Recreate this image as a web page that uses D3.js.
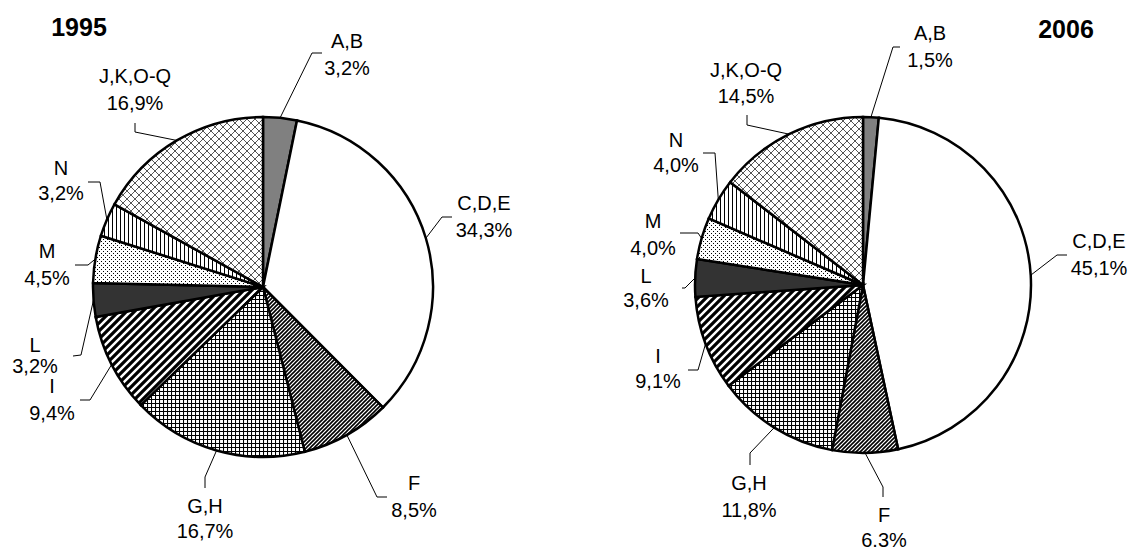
<!DOCTYPE html>
<html>
<head>
<meta charset="utf-8">
<script src="https://cdn.jsdelivr.net/npm/d3@7/dist/d3.min.js"></script>
<style>
  html, body { margin: 0; padding: 0; background: #fff; }
  svg { display: block; }
  text { font-family: "Liberation Sans", Arial, sans-serif; fill: #000; }
</style>
</head>
<body>
<svg id="chart" width="1131" height="549"></svg>
<script>
// ---- data ----
const years = ["1995", "2006"];
const sectors = ["A,B", "C,D,E", "F", "G,H", "I", "L", "M", "N", "J,K,O-Q"];
const values1995 = [3.2, 34.3, 8.5, 16.7, 9.4, 3.2, 4.5, 3.2, 16.9];
const values2006 = [1.5, 45.1, 6.3, 11.8, 9.1, 3.6, 4.0, 4.0, 14.5];
const pctLabels1995 = ["3,2%", "34,3%", "8,5%", "16,7%", "9,4%", "3,2%", "4,5%", "3,2%", "16,9%"];
const pctLabels2006 = ["1,5%", "45,1%", "6.3%", "11,8%", "9,1%", "3,6%", "4,0%", "4,0%", "14,5%"];

// ---- layout (positions / styles) ----
const pies = [
  { cx: 263, cy: 287, r: 170, title: { x: 79, y: 36 } },
  { cx: 863, cy: 285, r: 168, title: { x: 1066, y: 38 } }
];
// per slice: elbow, end of leader, text centre x, baselines of two lines
const labelLayout = [
  [ // 1995
    { ex: 312, ey: 53, tx2: 322, ty2: 53, x: 347, y1: 48, y2: 75 },
    { ex: 442, ey: 217, tx2: 452, ty2: 217, x: 484, y1: 210, y2: 237 },
    { ex: 377, ey: 497, tx2: 387, ty2: 497, x: 414, y1: 490, y2: 517 },
    { ex: 205, ey: 477, tx2: 205, ty2: 488, x: 205, y1: 513, y2: 538 },
    { ex: 90, ey: 400, tx2: 80, ty2: 400, x: 52, y1: 393, y2: 420 },
    { ex: 81, ey: 355, tx2: 73, ty2: 356, x: 35, y1: 352, y2: 373 },
    { ex: 88, ey: 265, tx2: 75, ty2: 265, x: 47, y1: 258, y2: 285 },
    { ex: 100, ey: 182, tx2: 88, ty2: 182, x: 61, y1: 175, y2: 200 },
    { ex: 135, ey: 132, tx2: 135, ty2: 123, x: 135, y1: 83, y2: 110 }
  ],
  [ // 2006
    { ex: 893, ey: 47, tx2: 900, ty2: 47, x: 930, y1: 40, y2: 67 },
    { ex: 1057, ey: 255, tx2: 1067, ty2: 255, x: 1099, y1: 248, y2: 275 },
    { ex: 883, ey: 487, tx2: 883, ty2: 497, x: 884, y1: 522, y2: 547 },
    { ex: 750, ey: 453, tx2: 750, ty2: 465, x: 749, y1: 490, y2: 517 },
    { ex: 698, ey: 370, tx2: 688, ty2: 370, x: 658, y1: 363, y2: 388 },
    { ex: 685, ey: 288, tx2: 682, ty2: 288, x: 646, y1: 283, y2: 307 },
    { ex: 698, ey: 233, tx2: 680, ty2: 233, x: 653, y1: 228, y2: 255 },
    { ex: 715, ey: 153, tx2: 703, ty2: 153, x: 676, y1: 147, y2: 172 },
    { ex: 747, ey: 125, tx2: 747, ty2: 115, x: 746, y1: 77, y2: 103 }
  ]
];

const svg = d3.select("#chart");
const defs = svg.append("defs");

function pattern(id, w, h, draw) {
  const p = defs.append("pattern").attr("id", id)
    .attr("patternUnits", "userSpaceOnUse").attr("width", w).attr("height", h);
  p.append("rect").attr("width", w).attr("height", h).attr("fill", "#fff");
  draw(p);
}
// F: dense upward diagonal
pattern("pF", 4, 4, p => {
  p.append("path").attr("d", "M-1,1 L1,-1 M0,4 L4,0 M3,5 L5,3").attr("stroke", "#000").attr("stroke-width", 1.6);
});
// G,H: small grid
pattern("pGH", 4, 4, p => {
  p.append("path").attr("d", "M0,0.5 H4 M0.5,0 V4").attr("stroke", "#000").attr("stroke-width", 1.1);
});
// I: wide upward diagonal
pattern("pI", 8, 8, p => {
  p.append("path").attr("d", "M-2,2 L2,-2 M0,8 L8,0 M6,10 L10,6").attr("stroke", "#000").attr("stroke-width", 3.2);
});
// M: dots
pattern("pM", 4, 4, p => {
  p.append("rect").attr("x", 0).attr("y", 0).attr("width", 1).attr("height", 1).attr("fill", "#000");
  p.append("rect").attr("x", 2).attr("y", 2).attr("width", 1).attr("height", 1).attr("fill", "#000");
});
// N: vertical lines
pattern("pN", 4, 4, p => {
  p.append("path").attr("d", "M1.5,0 V4").attr("stroke", "#000").attr("stroke-width", 1);
});
// J,K,O-Q: diagonal cross
pattern("pJ", 8, 8, p => {
  p.append("path").attr("d", "M0,0 L8,8 M8,0 L0,8 M-1,1 L1,-1 M7,9 L9,7 M-1,7 L1,9 M7,-1 L9,1")
    .attr("stroke", "#555").attr("stroke-width", 1);
});

const fills = ["#808080", "#ffffff", "url(#pF)", "url(#pGH)", "url(#pI)", "#333333", "url(#pM)", "url(#pN)", "url(#pJ)"];

const valueSets = [values1995, values2006];
const pctSets = [pctLabels1995, pctLabels2006];

const pieGen = d3.pie().sort(null).value(d => d.v).startAngle(0).endAngle(2 * Math.PI);

pies.forEach((P, k) => {
  const data = sectors.map((s, i) => ({ name: s, v: valueSets[k][i], pct: pctSets[k][i], i }));
  const arcs = pieGen(data);
  const arc = d3.arc().innerRadius(0).outerRadius(P.r);
  const g = svg.append("g").attr("transform", `translate(${P.cx},${P.cy})`);

  g.selectAll("path.slice").data(arcs).join("path")
    .attr("class", "slice")
    .attr("d", arc)
    .attr("fill", d => fills[d.data.i])
    .attr("stroke", "#000")
    .attr("stroke-width", 2.5)
    .attr("stroke-linejoin", "miter");

  // leader lines and labels
  const L = labelLayout[k];
  arcs.forEach(d => {
    const a = (d.startAngle + d.endAngle) / 2;
    const sx = P.cx + P.r * Math.sin(a);
    const sy = P.cy - P.r * Math.cos(a);
    const lay = L[d.data.i];
    svg.append("path")
      .attr("d", `M${sx},${sy} L${lay.ex},${lay.ey} L${lay.tx2},${lay.ty2}`)
      .attr("fill", "none").attr("stroke", "#000").attr("stroke-width", 1);
    svg.append("text").attr("x", lay.x).attr("y", lay.y1)
      .attr("text-anchor", "middle").attr("font-size", 20).text(d.data.name);
    svg.append("text").attr("x", lay.x).attr("y", lay.y2)
      .attr("text-anchor", "middle").attr("font-size", 20).text(d.data.pct);
  });

  svg.append("text").attr("x", P.title.x).attr("y", P.title.y)
    .attr("text-anchor", "middle").attr("font-size", 25).attr("font-weight", "bold")
    .text(years[k]);
});
</script>
</body>
</html>
